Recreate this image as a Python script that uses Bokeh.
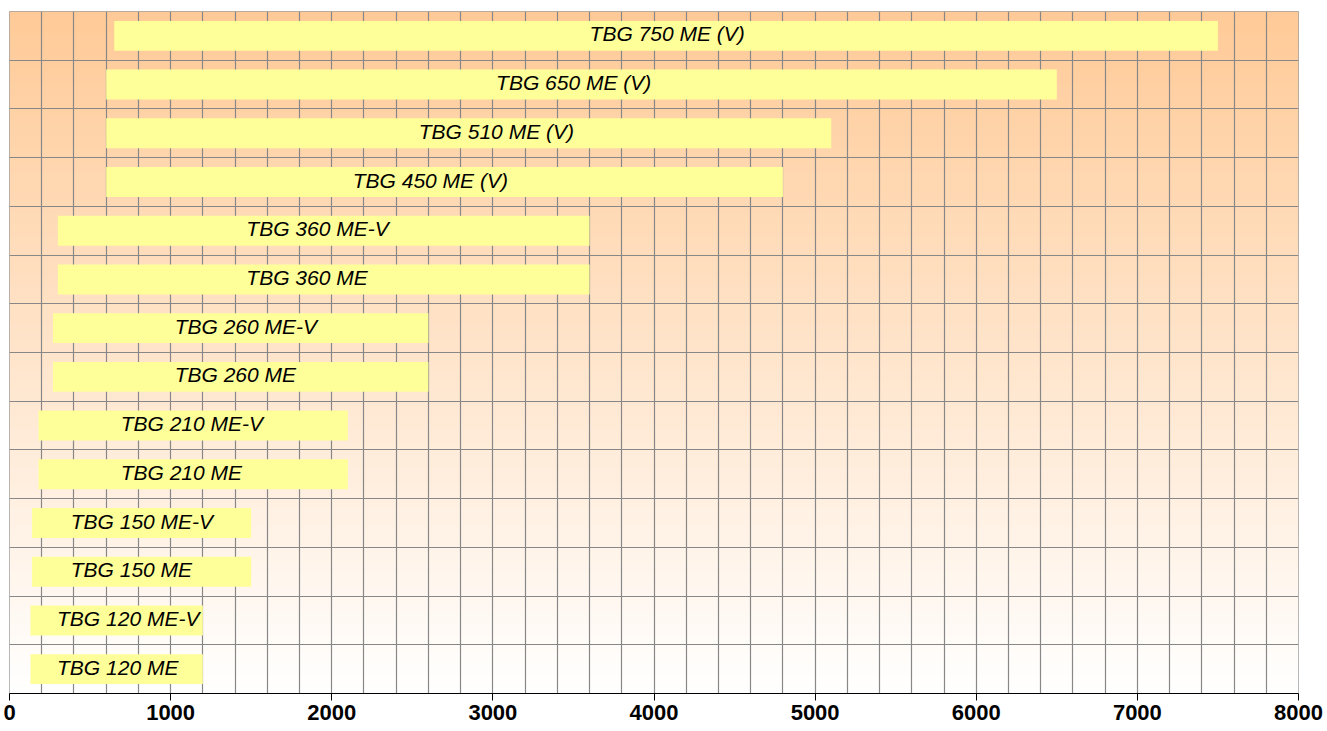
import numpy as np
from bokeh.plotting import figure
from bokeh.models import FixedTicker, Range1d, ColumnDataSource
from bokeh.core.properties import value
from bokeh.embed import file_html
from bokeh.resources import INLINE

# ---- data (bottom row first) ----
models = ["TBG 120 ME", "TBG 120 ME-V", "TBG 150 ME", "TBG 150 ME-V",
          "TBG 210 ME", "TBG 210 ME-V", "TBG 260 ME", "TBG 260 ME-V",
          "TBG 360 ME", "TBG 360 ME-V", "TBG 450 ME (V)", "TBG 510 ME (V)",
          "TBG 650 ME (V)", "TBG 750 ME (V)"]
range_start = [130, 130, 140, 140, 180, 180, 270, 270, 300, 300, 600, 600, 600, 650]
range_end = [1200, 1200, 1500, 1500, 2100, 2100, 2600, 2600, 3600, 3600, 4800, 5100, 6500, 7500]
# x value where each bar's label text begins
label_x = [295, 295, 380, 380, 690, 690, 1025, 1025, 1470, 1470, 2130, 2540, 3020, 3600]
x_ticks = [0, 1000, 2000, 3000, 4000, 5000, 6000, 7000, 8000]
x_max = 8000
grid_step = 200

n = len(models)
ypos = np.arange(n) + 0.5
start = np.array(range_start, dtype=float)
end = np.array(range_end, dtype=float)
src = ColumnDataSource(dict(y=ypos, start=start, end=end,
                            lx=np.array(label_x, dtype=float), name=models))

p = figure(frame_width=1289, frame_height=682,
           min_border_left=9, min_border_right=28, min_border_top=11,
           min_border_bottom=37,
           x_range=Range1d(0, x_max), y_range=Range1d(0, n),
           output_backend="svg", toolbar_location=None,
           background_fill_color="#FFFFFF", border_fill_color="#FFFFFF")

# background vertical gradient (peach at top to white at bottom)
rows = 700
t = np.linspace(0, 1, rows)[:, None] * np.ones((1, 2))
img = np.empty((rows, 2), dtype=np.uint32)
view = img.view(dtype=np.uint8).reshape((rows, 2, 4))
view[..., 0] = 255
view[..., 1] = np.round(255 - 53 * t).astype(np.uint8)
view[..., 2] = np.round(255 - 104 * t).astype(np.uint8)
view[..., 3] = 255
p.image_rgba(image=[img], x=0, y=0, dw=x_max, dh=n, level="image")

p.hbar(y="y", left="start", right="end", height=0.615, source=src,
       fill_color="#FFFF99", line_color=None)

p.text(x="lx", y="y", text="name", source=src,
       text_font=value("Liberation Sans"), text_font_style="italic",
       text_font_size="21px", text_align="left", text_baseline="middle",
       text_color="#000000", y_offset=-2)

# grids
p.xgrid.ticker = FixedTicker(ticks=list(range(0, x_max + 1, grid_step)))
p.ygrid.ticker = FixedTicker(ticks=list(range(n + 1)))
for g in (p.xgrid, p.ygrid):
    g.grid_line_color = "#878787"
    g.grid_line_width = 1.2

p.yaxis.visible = False

ax = p.xaxis[0]
ax.ticker = FixedTicker(ticks=x_ticks)
ax.axis_line_color = "#000000"
ax.axis_line_width = 1
ax.major_tick_line_color = "#000000"
ax.major_tick_out = 7
ax.major_tick_in = 0
ax.minor_tick_line_color = None
ax.major_label_text_font = "Liberation Sans"
ax.major_label_text_font_style = "bold"
ax.major_label_text_font_size = "22px"
ax.major_label_text_color = "#000000"
ax.major_label_standoff = 4

p.outline_line_color = "#a0a0a0"
p.outline_line_width = 1

open("out.html", "w").write(file_html(p, INLINE))
